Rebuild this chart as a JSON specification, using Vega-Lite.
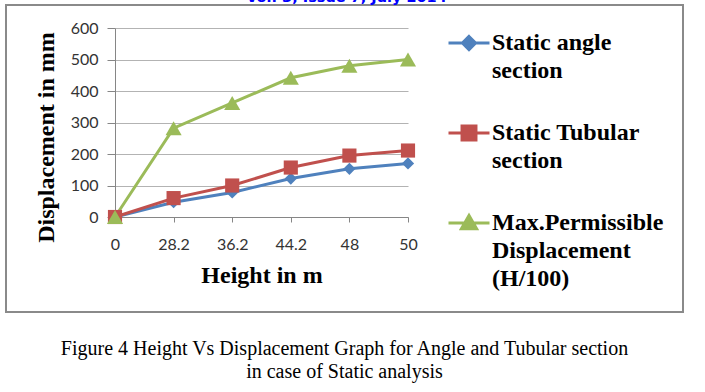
{
  "$schema": "https://vega.github.io/schema/vega-lite/v6.json",
  "width": 677,
  "height": 307,
  "autosize": {"type": "none"},
  "padding": {"left": 6, "top": 5, "right": 22, "bottom": 80},
  "background": "white",
  "config": {"view": {"stroke": "#8a8a8a", "strokeWidth": 2}},
  "title": {
    "text": ["Figure 4 Height Vs Displacement Graph for Angle and Tubular section", "in case of Static analysis"],
    "orient": "bottom",
    "anchor": "middle",
    "font": "Liberation Serif",
    "fontSize": 20,
    "fontWeight": "normal",
    "color": "#000000",
    "offset": 27,
    "lineHeight": 23
  },
  "data": {
    "values": [
      {"height": "0", "series": "Static angle section", "disp": 0},
      {"height": "28.2", "series": "Static angle section", "disp": 47},
      {"height": "36.2", "series": "Static angle section", "disp": 78},
      {"height": "44.2", "series": "Static angle section", "disp": 122},
      {"height": "48", "series": "Static angle section", "disp": 153},
      {"height": "50", "series": "Static angle section", "disp": 170},
      {"height": "0", "series": "Static Tubular section", "disp": 0},
      {"height": "28.2", "series": "Static Tubular section", "disp": 60},
      {"height": "36.2", "series": "Static Tubular section", "disp": 100},
      {"height": "44.2", "series": "Static Tubular section", "disp": 157},
      {"height": "48", "series": "Static Tubular section", "disp": 195},
      {"height": "50", "series": "Static Tubular section", "disp": 211},
      {"height": "0", "series": "Max.Permissible Displacement (H/100)", "disp": 0},
      {"height": "28.2", "series": "Max.Permissible Displacement (H/100)", "disp": 282},
      {"height": "36.2", "series": "Max.Permissible Displacement (H/100)", "disp": 362},
      {"height": "44.2", "series": "Max.Permissible Displacement (H/100)", "disp": 442},
      {"height": "48", "series": "Max.Permissible Displacement (H/100)", "disp": 480},
      {"height": "50", "series": "Max.Permissible Displacement (H/100)", "disp": 500}
    ]
  },
  "resolve": {"axis": {"x": "independent"}},
  "encoding": {
    "x": {
      "field": "height",
      "type": "ordinal",
      "sort": ["0", "28.2", "36.2", "44.2", "48", "50"],
      "scale": {"type": "point", "padding": 0, "range": [109, 402]}
    },
    "y": {
      "field": "disp",
      "type": "quantitative",
      "scale": {"domain": [0, 600], "range": [212, 23], "nice": false, "zero": true}
    },
    "color": {
      "field": "series",
      "type": "nominal",
      "scale": {
        "domain": ["Static angle section", "Static Tubular section", "Max.Permissible Displacement (H/100)"],
        "range": ["#4F81BD", "#C0504D", "#9BBB59"]
      }
    }
  },
  "layer": [
    {
      "mark": {"type": "line", "strokeWidth": 3},
      "encoding": {
        "x": {
          "field": "height",
          "type": "ordinal",
          "sort": ["0", "28.2", "36.2", "44.2", "48", "50"],
          "axis": {
            "title": "Height in m",
            "offset": -95,
            "labelAngle": 0,
            "grid": false,
            "domainColor": "#868686",
            "tickColor": "#868686",
            "tickSize": 5,
            "labelPadding": 14,
            "labelFont": "Lato",
            "labelFontSize": 16,
            "labelColor": "#333333",
            "titleFont": "Liberation Serif",
            "titleFontSize": 24,
            "titleFontWeight": "bold",
            "titleColor": "#000000",
            "titleY": 65,
            "titleBaseline": "alphabetic"
          }
        },
        "y": {
          "field": "disp",
          "type": "quantitative",
          "axis": {
            "title": "Displacement in mm",
            "offset": -109,
            "values": [0, 100, 200, 300, 400, 500, 600],
            "grid": true,
            "gridColor": "#b3b3b3",
            "domainColor": "#868686",
            "tickColor": "#868686",
            "tickSize": 8,
            "labelPadding": 9,
            "labelFont": "Lato",
            "labelFontSize": 16,
            "labelColor": "#333333",
            "titleFont": "Liberation Serif",
            "titleFontSize": 24,
            "titleFontWeight": "bold",
            "titleColor": "#000000",
            "titleX": -62,
            "titleY": 132,
            "titleAngle": -90,
            "titleAlign": "center",
            "titleBaseline": "alphabetic"
          }
        },
        "color": {
          "field": "series",
          "type": "nominal",
          "legend": {
            "title": null,
            "orient": "none",
            "legendX": 441,
            "legendY": 16,
            "padding": 0,
            "symbolType": "M-1,0L1,0",
            "symbolSize": 1681,
            "symbolStrokeWidth": 3,
            "labelOffset": 1,
            "labelFont": "Liberation Serif",
            "labelFontSize": 24,
            "labelFontWeight": "bold",
            "labelColor": "#000000",
            "labelLimit": 300,
            "labelBaseline": "top",
            "rowPadding": 28,
            "labelExpr": "datum.label == 'Static angle section' ? ['Static angle', 'section'] : datum.label == 'Static Tubular section' ? ['Static Tubular', 'section'] : ['Max.Permissible', 'Displacement', '(H/100)']",
            "encode": {
              "symbols": {
                "update": {
                  "shape": {"signal": "datum.value == 'Static angle section' ? 'M-1,0L1,0M0,-0.32L0.32,0L0,0.32L-0.32,0Z' : datum.value == 'Static Tubular section' ? 'M-1,0L1,0M-0.34,-0.34L0.34,-0.34L0.34,0.34L-0.34,0.34Z' : 'M-1,0L1,0M0,-0.36L0.37,0.28L-0.37,0.28Z'"},
                  "fill": {"signal": "scale('color', datum.value)"},
                  "stroke": {"signal": "scale('color', datum.value)"},
                  "strokeWidth": {"value": 3},
                  "opacity": {"value": 1}
                }
              },
              "labels": {
                "update": {
                  "lineHeight": {"value": 28},
                  "dy": {"value": -12}
                }
              }
            }
          }
        }
      }
    },
    {
      "transform": [{"filter": "datum.series == 'Static angle section'"}],
      "mark": {"type": "point", "filled": true, "opacity": 1, "shape": "diamond", "size": 150},
      "encoding": {
        "x": {
          "field": "height",
          "type": "ordinal",
          "sort": ["0", "28.2", "36.2", "44.2", "48", "50"],
          "axis": {
            "orient": "top",
            "title": "Vol. 3, Issue 7, July 2014",
            "labels": false,
            "ticks": false,
            "domain": false,
            "grid": false,
            "titleFont": "DejaVu Sans",
            "titleFontSize": 14.5,
            "titleFontWeight": "bold",
            "titleColor": "#0000FF",
            "titleX": 340,
            "titleY": -4,
            "titleBaseline": "alphabetic"
          }
        }
      }
    },
    {
      "transform": [{"filter": "datum.series == 'Static Tubular section'"}],
      "mark": {"type": "point", "filled": true, "opacity": 1, "shape": "square", "size": 200},
      "encoding": {
        "x": {
          "field": "height",
          "type": "ordinal",
          "sort": ["0", "28.2", "36.2", "44.2", "48", "50"],
          "axis": null
        }
      }
    },
    {
      "transform": [{"filter": "datum.series == 'Max.Permissible Displacement (H/100)'"}],
      "mark": {"type": "point", "filled": true, "opacity": 1, "shape": "triangle-up", "size": 260},
      "encoding": {
        "x": {
          "field": "height",
          "type": "ordinal",
          "sort": ["0", "28.2", "36.2", "44.2", "48", "50"],
          "axis": null
        }
      }
    }
  ]
}
